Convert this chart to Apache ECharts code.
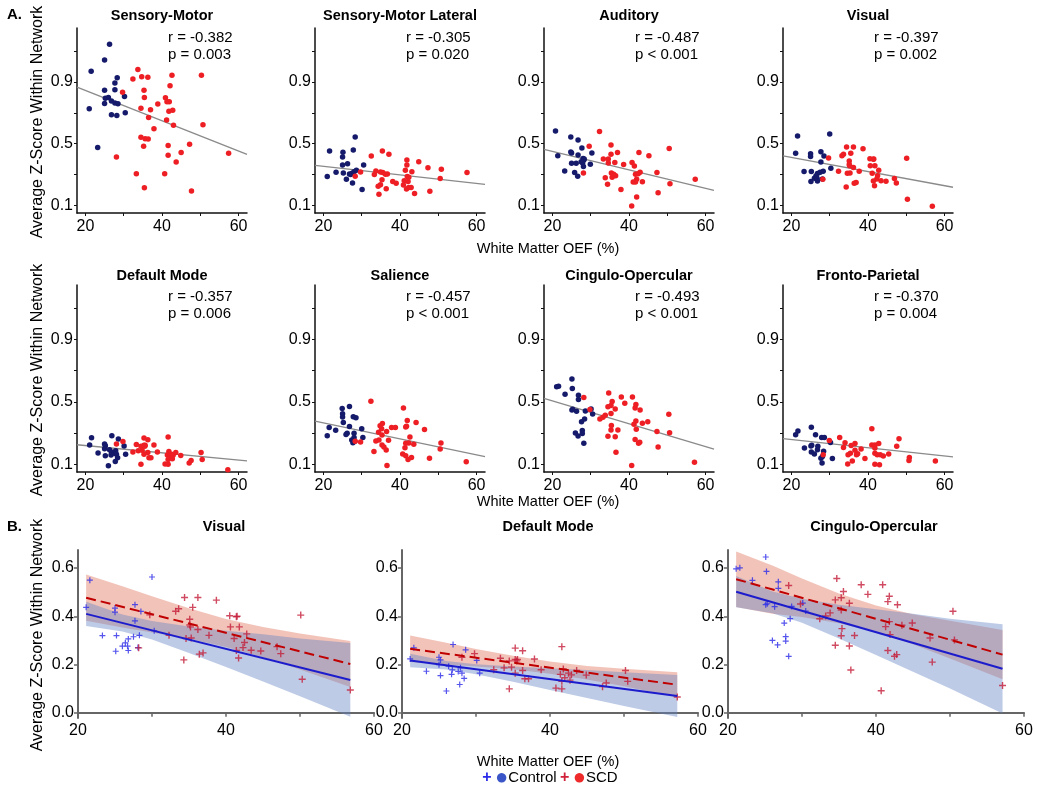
<!DOCTYPE html>
<html><head><meta charset="utf-8">
<script src="https://cdn.jsdelivr.net/npm/echarts@6/dist/echarts.min.js"></script>
<style>html,body{margin:0;padding:0;background:#fff}#c{width:1037px;height:791px}</style>
</head><body><div id="c"></div>
<script>
// ---------- DATA: [White Matter OEF (%), Average Z-Score] ----------
var smCtrl = [[26.3,1.144],[25.0,1.043],[21.5,0.970],[28.3,0.928],[27.7,0.894],[25.0,0.847],[27.7,0.849],[30.2,0.806],[25.2,0.795],[26.0,0.80],[26.8,0.776],[25.0,0.761],[27.7,0.763],[28.5,0.759],[21.0,0.727],[26.8,0.688],[28.2,0.682],[30.4,0.70],[23.2,0.475]];
var smScd = [[33.7,0.981],[32.4,0.919],[34.7,0.934],[36.3,0.93],[42.6,0.943],[50.3,0.943],[42.1,0.876],[29.7,0.834],[35.3,0.847],[35.4,0.80],[40.9,0.797],[41.9,0.772],[41.3,0.772],[38.9,0.757],[34.5,0.729],[37.0,0.72],[42.8,0.716],[41.8,0.71],[36.5,0.669],[41.2,0.654],[50.7,0.622],[43.0,0.62],[37.9,0.597],[34.5,0.541],[35.6,0.532],[36.4,0.530],[35.2,0.483],[41.6,0.488],[47.2,0.496],[45.0,0.443],[41.6,0.424],[28.1,0.413],[43.7,0.381],[33.3,0.304],[40.7,0.304],[57.4,0.438],[35.4,0.214],[47.7,0.193]];
var smlCtrl = [[28.3,0.543],[21.6,0.452],[25.1,0.444],[27.8,0.459],[25.0,0.414],[25.0,0.362],[26.3,0.37],[30.5,0.362],[23.3,0.314],[25.2,0.31],[26.8,0.303],[27.5,0.308],[28.0,0.318],[28.6,0.327],[27.1,0.30],[21.0,0.286],[26.0,0.269],[27.6,0.245],[30.1,0.202]];
var smlScd = [[32.5,0.42],[35.4,0.452],[37.1,0.431],[41.8,0.394],[41.8,0.362],[44.9,0.383],[47.3,0.344],[50.8,0.333],[57.5,0.312],[29.7,0.316],[28.3,0.288],[33.7,0.323],[34.9,0.316],[35.5,0.312],[33.3,0.299],[36.2,0.301],[36.7,0.303],[41.4,0.327],[43.1,0.318],[41.9,0.286],[41.1,0.26],[42.3,0.282],[42.1,0.254],[38.1,0.254],[39.0,0.243],[35.3,0.266],[34.9,0.234],[34.3,0.223],[40.9,0.232],[42.3,0.215],[42.9,0.215],[41.7,0.206],[36.4,0.208],[50.5,0.273],[47.8,0.191],[43.8,0.176],[34.5,0.171]];
var audCtrl = [[20.8,0.582],[24.8,0.543],[26.7,0.524],[21.4,0.422],[24.8,0.446],[25.0,0.439],[27.7,0.472],[30.3,0.439],[26.7,0.426],[28.0,0.403],[28.2,0.394],[28.3,0.40],[27.5,0.383],[27.9,0.375],[28.1,0.351],[25.0,0.372],[26.2,0.372],[29.9,0.366],[23.2,0.323],[25.8,0.312],[26.6,0.288]];
var audScd = [[32.3,0.578],[29.6,0.483],[28.1,0.31],[35.3,0.491],[37.0,0.442],[35.3,0.431],[42.6,0.442],[45.2,0.422],[50.5,0.468],[33.3,0.40],[34.6,0.40],[34.6,0.375],[36.3,0.377],[38.6,0.364],[40.8,0.377],[41.4,0.355],[42.9,0.314],[47.3,0.312],[35.4,0.31],[36.0,0.301],[36.5,0.292],[35.6,0.282],[33.8,0.279],[41.7,0.301],[42.4,0.305],[42.0,0.269],[41.1,0.251],[41.7,0.251],[43.5,0.253],[34.4,0.236],[37.9,0.202],[50.7,0.24],[57.3,0.269],[47.6,0.182],[42.0,0.154],[40.7,0.096]];
var visCtrl = [[21.1,0.437],[21.6,0.55],[23.3,0.32],[25.0,0.434],[25.0,0.417],[25.2,0.32],[25.1,0.255],[26.0,0.276],[26.4,0.29],[26.7,0.276],[26.8,0.306],[26.8,0.258],[27.5,0.315],[27.7,0.448],[27.7,0.381],[28.1,0.27],[28.3,0.321],[28.5,0.42],[30.0,0.563],[30.3,0.34]];
var visScd = [[28.2,0.269],[29.7,0.406],[32.3,0.321],[33.2,0.421],[33.6,0.431],[34.4,0.478],[34.3,0.219],[34.6,0.308],[35.1,0.388],[35.1,0.364],[35.2,0.356],[35.3,0.31],[35.5,0.437],[36.2,0.478],[36.2,0.345],[36.4,0.243],[36.9,0.248],[37.7,0.321],[38.7,0.467],[40.5,0.402],[40.6,0.356],[41.1,0.308],[41.4,0.398],[41.5,0.40],[41.4,0.258],[41.7,0.227],[41.8,0.356],[42.3,0.27],[42.5,0.291],[42.8,0.327],[43.4,0.259],[44.7,0.256],[46.9,0.274],[47.4,0.245],[50.1,0.405],[50.3,0.139],[56.8,0.094]];
var dmCtrl = [[21.1,0.223],[21.6,0.269],[23.3,0.172],[25.0,0.230],[25.2,0.219],[25.0,0.199],[25.2,0.154],[26.0,0.090],[26.3,0.193],[26.9,0.283],[26.8,0.178],[26.7,0.159],[27.6,0.171],[27.8,0.117],[27.9,0.186],[28.1,0.164],[28.4,0.142],[28.6,0.261],[30.1,0.217],[30.5,0.164]];
var dmScd = [[28.1,0.23],[29.8,0.245],[32.4,0.178],[33.3,0.226],[33.8,0.186],[34.5,0.215],[34.5,0.099],[34.8,0.189],[35.3,0.268],[35.3,0.221],[35.5,0.215],[35.6,0.221],[35.3,0.164],[36.3,0.257],[36.3,0.175],[36.6,0.141],[37.1,0.141],[37.9,0.223],[38.8,0.178],[40.8,0.102],[41.4,0.159],[41.6,0.274],[41.6,0.130],[41.6,0.099],[41.8,0.181],[42.0,0.145],[42.5,0.164],[42.7,0.135],[42.9,0.157],[43.6,0.175],[44.9,0.156],[47.1,0.108],[47.6,0.123],[50.2,0.175],[50.5,0.130],[57.2,0.065]];
var salCtrl = [[21.0,0.282],[21.5,0.336],[23.2,0.318],[24.9,0.457],[25.0,0.424],[25.0,0.403],[25.2,0.368],[26.8,0.470],[26.8,0.342],[26.2,0.299],[25.9,0.290],[27.8,0.405],[28.5,0.398],[28.0,0.299],[28.0,0.271],[27.4,0.256],[27.7,0.238],[28.2,0.247],[30.0,0.327],[30.3,0.271]];
var salScd = [[32.4,0.504],[40.9,0.461],[29.7,0.243],[28.3,0.247],[41.9,0.381],[41.7,0.344],[41.5,0.338],[44.2,0.368],[46.4,0.323],[35.4,0.362],[34.8,0.346],[35.2,0.327],[36.5,0.310],[34.4,0.305],[37.8,0.336],[38.8,0.336],[35.3,0.288],[42.6,0.275],[33.7,0.249],[34.5,0.256],[37.0,0.253],[35.3,0.223],[35.8,0.210],[36.4,0.191],[33.2,0.182],[41.5,0.234],[42.3,0.236],[43.6,0.228],[41.3,0.206],[40.7,0.165],[41.5,0.154],[43.0,0.143],[42.1,0.130],[50.7,0.236],[50.5,0.197],[47.7,0.139],[57.3,0.115],[36.6,0.091]];
var coCtrl = [[21.1,0.597],[21.6,0.601],[23.3,0.549],[25.1,0.646],[25.2,0.586],[25.1,0.448],[25.3,0.452],[26.0,0.30],[26.3,0.44],[26.7,0.281],[26.8,0.543],[26.8,0.516],[27.6,0.372],[27.8,0.316],[27.8,0.297],[28.2,0.234],[28.4,0.39],[28.6,0.441],[30.1,0.455],[30.5,0.422]];
var coScd = [[28.2,0.528],[29.8,0.451],[32.4,0.39],[33.2,0.401],[33.8,0.414],[34.5,0.28],[34.5,0.468],[34.7,0.557],[35.3,0.477],[35.3,0.426],[35.6,0.503],[35.4,0.349],[35.3,0.319],[36.4,0.454],[36.4,0.277],[36.6,0.177],[37.1,0.32],[38.0,0.531],[38.9,0.491],[40.7,0.091],[40.9,0.531],[41.3,0.357],[41.6,0.258],[41.6,0.461],[41.8,0.483],[41.8,0.378],[41.9,0.324],[42.5,0.234],[42.8,0.241],[42.9,0.448],[43.5,0.363],[44.9,0.372],[47.3,0.31],[47.6,0.21],[50.4,0.421],[50.6,0.302],[57.1,0.113]];
var fpCtrl = [[21.1,0.289],[21.7,0.313],[23.4,0.204],[25.2,0.337],[25.1,0.217],[25.2,0.178],[25.3,0.222],[26.3,0.289],[26.0,0.165],[26.9,0.215],[26.8,0.193],[27.9,0.272],[28.6,0.272],[28.4,0.183],[28.1,0.150],[27.7,0.139],[28.0,0.107],[30.2,0.239],[30.7,0.137]];
var fpScd = [[29.9,0.252],[28.3,0.161],[32.6,0.272],[33.6,0.207],[34.0,0.237],[34.8,0.161],[34.7,0.102],[35.4,0.170],[35.6,0.220],[35.9,0.120],[36.6,0.233],[36.6,0.189],[37.0,0.161],[37.3,0.167],[38.2,0.198],[39.2,0.137],[41.0,0.328],[41.0,0.224],[41.8,0.224],[41.8,0.204],[41.8,0.170],[41.8,0.100],[42.4,0.161],[42.8,0.233],[43.0,0.096],[43.2,0.161],[44.0,0.152],[45.4,0.165],[47.5,0.215],[48.1,0.263],[50.8,0.143],[50.7,0.124],[57.6,0.120]];

// pooled regression line end points (panel A)
var smFit  = [[17.8,0.866],[62.2,0.430]];
var smlFit = [[17.8,0.359],[62.2,0.236]];
var audFit = [[17.8,0.463],[62.2,0.197]];
var visFit = [[17.8,0.420],[62.2,0.217]];
var dmFit  = [[17.8,0.225],[62.2,0.121]];
var salFit = [[17.8,0.377],[62.2,0.148]];
var coFit  = [[17.8,0.522],[62.2,0.197]];
var fpFit  = [[17.8,0.264],[62.2,0.147]];

var panelTitles = ['Sensory-Motor','Sensory-Motor Lateral','Auditory','Visual','Default Mode','Salience','Cingulo-Opercular','Fronto-Parietal'];
var rLabels = ['r = -0.382','r = -0.305','r = -0.487','r = -0.397','r = -0.357','r = -0.457','r = -0.493','r = -0.370'];
var pLabels = ['p = 0.003','p = 0.020','p < 0.001','p = 0.002','p = 0.006','p < 0.001','p < 0.001','p = 0.004'];
var aYLabels = [0.1,0.5,0.9];
var aYTicks = [0.1,0.3,0.5,0.7,0.9,1.1];
var xLabels = [20,40,60];
var xTicks = [20,30,40,50,60];
var bYLabels = [0.0,0.2,0.4,0.6];

// panel B: group regression lines and 95% CI bands [x, lower, upper]
var bTitles = ['Visual','Default Mode','Cingulo-Opercular'];
var visCtrlLine = [[21.1,0.410],[56.8,0.136]];
var visScdLine  = [[21.1,0.477],[56.8,0.202]];
var dmCtrlLine  = [[21.1,0.217],[57.2,0.069]];
var dmScdLine   = [[21.1,0.265],[57.2,0.116]];
var coCtrlLine  = [[21.1,0.502],[57.1,0.182]];
var coScdLine   = [[21.1,0.554],[57.1,0.241]];
var visScdBand  = [[21.1,0.381,0.573],[26,0.353,0.525],[30,0.333,0.483],[35,0.307,0.433],[40,0.273,0.389],[45,0.230,0.356],[50,0.179,0.329],[56.8,0.107,0.297]];
var visCtrlBand = [[21.1,0.360,0.460],[26,0.337,0.407],[30,0.304,0.380],[35,0.248,0.358],[40,0.190,0.340],[45,0.129,0.325],[50,0.068,0.308],[56.8,-0.017,0.289]];
var dmScdBand   = [[21.1,0.210,0.320],[26,0.200,0.290],[30,0.192,0.264],[35,0.180,0.236],[40,0.162,0.212],[45,0.138,0.194],[50,0.110,0.182],[57.2,0.064,0.168]];
var dmCtrlBand  = [[21.1,0.189,0.245],[26,0.179,0.215],[30,0.159,0.201],[35,0.128,0.192],[40,0.094,0.184],[45,0.061,0.177],[50,0.028,0.168],[57.2,-0.018,0.156]];
var coScdBand   = [[21.1,0.439,0.669],[26,0.411,0.611],[30,0.397,0.557],[35,0.371,0.495],[40,0.335,0.445],[45,0.284,0.408],[50,0.225,0.381],[57.1,0.139,0.343]];
var coCtrlBand  = [[21.1,0.437,0.567],[26,0.413,0.503],[30,0.373,0.473],[35,0.308,0.448],[40,0.239,0.429],[45,0.170,0.410],[50,0.100,0.390],[57.1,-0.003,0.367]];

// ---------- CHART ----------
var FONT = "'Liberation Sans', Arial, sans-serif";
var NAVY = '#151a6a', RED = '#ee1f24', GRAY = '#8a8a8a';
var BBLUE = '#2a2ae8', BRED = '#c41e3a';
var PLUS = 'path://M4,0H6V4H10V6H6V10H4V6H0V4H4Z';

var aCtrl = [smCtrl, smlCtrl, audCtrl, visCtrl, dmCtrl, salCtrl, coCtrl, fpCtrl];
var aScd  = [smScd, smlScd, audScd, visScd, dmScd, salScd, coScd, fpScd];
var aFit  = [smFit, smlFit, audFit, visFit, dmFit, salFit, coFit, fpFit];
var bCtrl = [visCtrl, dmCtrl, coCtrl], bScd = [visScd, dmScd, coScd];
var bCtrlLine = [visCtrlLine, dmCtrlLine, coCtrlLine], bScdLine = [visScdLine, dmScdLine, coScdLine];
var bCtrlBand = [visCtrlBand, dmCtrlBand, coCtrlBand], bScdBand = [visScdBand, dmScdBand, coScdBand];

var aLeft = [77, 315, 544, 783], aW = 170;
var aTop = [28, 285], aH = [185, 187];
var bLeft = [78, 402, 728], bW = 296, bTop = 550, bH = 168;

var grids = [], xAxes = [], yAxes = [], series = [], graphics = [];

function txt(x, y, s, font, extra) {
  var st = {text: s, font: font, fill: '#000', textAlign: 'center', align: 'center', textVerticalAlign: 'middle', verticalAlign: 'middle'};
  if (extra) for (var k in extra) st[k] = extra[k];
  return {type: 'text', x: x, y: y, style: st, z: 100};
}

for (var i = 0; i < 8; i++) {
  var col = i % 4, row = Math.floor(i / 4);
  var L = aLeft[col], T = aTop[row], H = aH[row];
  grids.push({left: L, top: T, width: aW, height: H});
  xAxes.push({gridIndex: i, type: 'value', min: 17.8, max: 62.2,
    axisLine: {show: true, lineStyle: {color: '#111', width: 1.5}},
    axisTick: {show: true, length: 3, customValues: xTicks, lineStyle: {color: '#111'}},
    axisLabel: {customValues: xLabels, margin: 6, color: '#000', fontFamily: FONT, fontSize: 16},
    splitLine: {show: false}});
  yAxes.push({gridIndex: i, type: 'value', min: 0.05, max: 1.25,
    axisLine: {show: true, lineStyle: {color: '#111', width: 1.5}},
    axisTick: {show: true, length: 3, customValues: aYTicks, lineStyle: {color: '#111'}},
    axisLabel: {customValues: aYLabels, margin: 4, color: '#000', fontFamily: FONT, fontSize: 16,
      formatter: function (v) { return v.toFixed(1); }},
    splitLine: {show: false}});
  series.push({type: 'line', xAxisIndex: i, yAxisIndex: i, data: aFit[i], symbol: 'none', silent: true,
    lineStyle: {color: GRAY, width: 1.3}, z: 2});
  series.push({type: 'scatter', xAxisIndex: i, yAxisIndex: i, data: aCtrl[i], symbolSize: 5.5,
    itemStyle: {color: NAVY, opacity: 1}, z: 3});
  series.push({type: 'scatter', xAxisIndex: i, yAxisIndex: i, data: aScd[i], symbolSize: 5.5,
    itemStyle: {color: RED, opacity: 1}, z: 3});
  var titleY = row === 0 ? 16 : 276;
  graphics.push(txt(L + aW / 2, titleY, panelTitles[i], 'bold 14.5px ' + FONT));
  var ry = row === 0 ? 38 : 297;
  graphics.push(txt(L + 91, ry, rLabels[i], '15px ' + FONT, {textAlign: 'left', align: 'left'}));
  graphics.push(txt(L + 91, ry + 17, pLabels[i], '15px ' + FONT, {textAlign: 'left', align: 'left'}));
}

function bandSeries(band, color, idx) {
  return {type: 'custom', xAxisIndex: idx, yAxisIndex: idx, data: band, encode: {x: 0, y: [1, 2]},
    silent: true, z: 1, clip: false,
    renderItem: function (params, api) {
      if (params.dataIndex !== 0) return;
      var up = band.map(function (d) { return api.coord([d[0], d[2]]); });
      var lo = band.map(function (d) { return api.coord([d[0], d[1]]); }).reverse();
      return {type: 'polygon', shape: {points: up.concat(lo)}, style: {fill: color}};
    }};
}

for (var j = 0; j < 3; j++) {
  var gi = 8 + j;
  grids.push({left: bLeft[j], top: bTop, width: bW, height: bH});
  xAxes.push({gridIndex: gi, type: 'value', min: 20, max: 60,
    axisLine: {show: true, lineStyle: {color: '#666', width: 2}},
    axisTick: {show: true, length: 4, customValues: xTicks, lineStyle: {color: '#666', width: 1.5}},
    axisLabel: {customValues: xLabels, margin: 5, color: '#000', fontFamily: FONT, fontSize: 16},
    splitLine: {show: false}});
  yAxes.push({gridIndex: gi, type: 'value', min: -0.022, max: 0.675,
    axisLine: {show: true, lineStyle: {color: '#666', width: 2}},
    axisTick: {show: true, length: 4, customValues: bYLabels, lineStyle: {color: '#666', width: 1.5}},
    axisLabel: {customValues: bYLabels, margin: 4, color: '#000', fontFamily: FONT, fontSize: 16,
      formatter: function (v) { return v.toFixed(1); }},
    splitLine: {show: false}});
  series.push(bandSeries(bScdBand[j], 'rgba(225,112,88,0.42)', gi));
  series.push(bandSeries(bCtrlBand[j], 'rgba(100,130,195,0.42)', gi));
  series.push({type: 'scatter', xAxisIndex: gi, yAxisIndex: gi, data: bCtrl[j], symbol: PLUS, symbolSize: 6,
    itemStyle: {color: BBLUE}, z: 3});
  series.push({type: 'scatter', xAxisIndex: gi, yAxisIndex: gi, data: bScd[j], symbol: PLUS, symbolSize: 7,
    itemStyle: {color: BRED}, z: 3});
  series.push({type: 'line', xAxisIndex: gi, yAxisIndex: gi, data: bCtrlLine[j], symbol: 'none', silent: true,
    lineStyle: {color: '#1c1ccc', width: 2}, z: 4});
  series.push({type: 'line', xAxisIndex: gi, yAxisIndex: gi, data: bScdLine[j], symbol: 'none', silent: true,
    lineStyle: {color: '#c00000', width: 2, type: [10, 5]}, z: 4});
  graphics.push(txt(bLeft[j] + bW / 2 - 2, 527, bTitles[j], 'bold 14.5px ' + FONT));
}

// axis titles and panel letters
graphics.push(txt(22, 15, 'A.', 'bold 15px ' + FONT, {textAlign: 'right', align: 'right'}));
graphics.push(txt(22, 527, 'B.', 'bold 15px ' + FONT, {textAlign: 'right', align: 'right'}));
[249, 502, 762].forEach(function (y) { graphics.push(txt(548, y, 'White Matter OEF (%)', '14.5px ' + FONT)); });
[[38, 122], [38, 380], [38, 635]].forEach(function (p) {
  var t = txt(p[0], p[1], 'Average Z-Score Within Network', '16px ' + FONT);
  t.rotation = Math.PI / 2;
  graphics.push(t);
});
// legend
graphics.push({type: 'text', x: 550, y: 778, z: 100, style: {
  text: '{pb|+} {cb|●}{t|Control} {pr|+} {cr|●}{t|SCD}',
  textAlign: 'center', align: 'center', textVerticalAlign: 'middle', verticalAlign: 'middle',
  rich: {
    pb: {fill: '#2a2ae8', font: 'bold 16px ' + FONT},
    cb: {fill: '#3a55c8', font: '22px ' + FONT},
    pr: {fill: '#d0203a', font: 'bold 16px ' + FONT},
    cr: {fill: '#ee2a2a', font: '22px ' + FONT},
    t: {fill: '#000', font: '15px ' + FONT}
  }}});

var chart = echarts.init(document.getElementById('c'), null, {renderer: 'canvas'});
chart.setOption({
  backgroundColor: '#fff',
  animation: false,
  grid: grids, xAxis: xAxes, yAxis: yAxes, series: series,
  graphic: {elements: graphics}
});
</script></body></html>
